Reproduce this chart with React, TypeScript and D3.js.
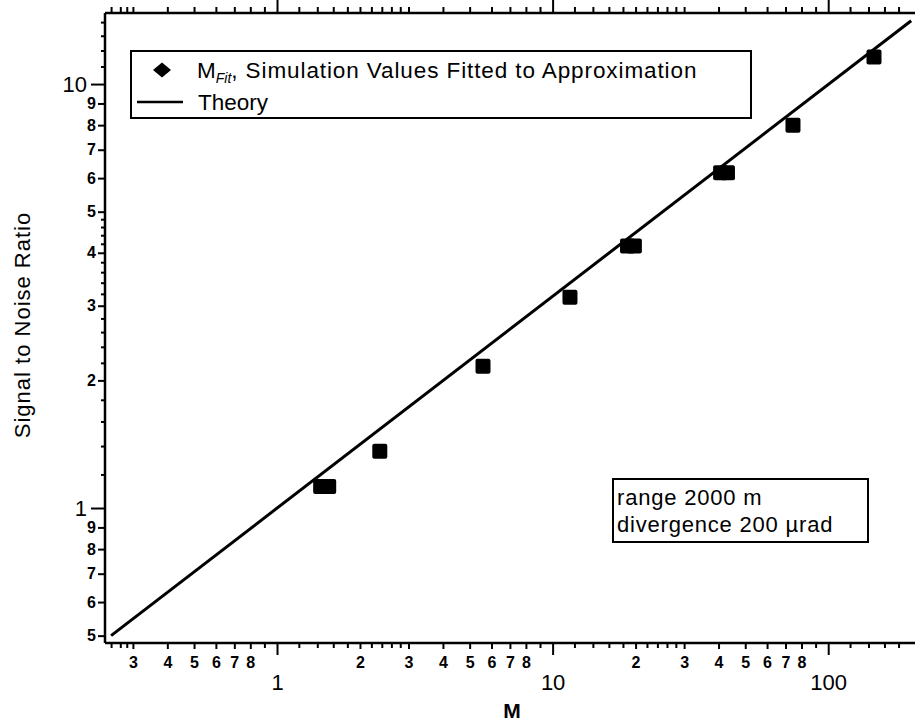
import React, { useRef, useEffect } from 'react';
import * as d3 from 'd3';

// M_Fit: simulation values fitted to approximation
const fitM = [1.44, 1.54, 2.36, 5.59, 11.56, 18.7, 19.8, 40.7, 43.1, 74.5, 146.6];
const fitSNR = [1.124, 1.124, 1.362, 2.16, 3.14, 4.15, 4.15, 6.18, 6.18, 8.0, 11.58];

// theory line (end points)
const theoryM = [0.25, 200];
const theorySNR = [0.5, 14.1];

// x axis ticks
const xMajor = [1, 10, 100];
const xLabeled = [0.3, 0.4, 0.5, 0.6, 0.7, 0.8, 2, 3, 4, 5, 6, 7, 8, 20, 30, 40, 50, 60, 70, 80];
const xMinor = [0.25, 0.27, 0.285, 0.9, 1.2, 1.4, 1.6, 1.8, 2.2, 2.4, 2.6, 2.8, 9,
  12, 14, 16, 18, 22, 24, 26, 28, 90, 120, 140, 160, 180];

// y axis ticks
const yMajor = [1, 10];
const yLabeled = [0.5, 0.6, 0.7, 0.8, 0.9, 2, 3, 4, 5, 6, 7, 8, 9];
const yMinor = [1.2, 1.4, 1.6, 1.8, 2.2, 2.4, 2.6, 2.8, 3.2, 3.4, 3.6, 3.8,
  4.2, 4.4, 4.6, 4.8, 11, 12, 13, 14];

const FONT = '"Liberation Sans", Arial, Helvetica, sans-serif';

// leading digit of a log tick value
const digit = (d: number) => String(Math.round(d / Math.pow(10, Math.floor(Math.log10(d) + 1e-9))));

const App: React.FC = () => {
  const svgRef = useRef<SVGSVGElement | null>(null);
  const W = 915;
  const H = 723;

  useEffect(() => {
    if (!svgRef.current) return;
    const svg = d3.select(svgRef.current);
    svg.selectAll('*').remove();

    const left = 105, right = 915, top = 13, bottom = 643;

    const x = d3.scaleLog().domain([0.2376, 206.5]).range([left, right]);
    const y = d3.scaleLog().domain([0.4804, 14.71]).range([bottom, top]);

    const styleAxis = (g: d3.Selection<SVGGElement, unknown, null, undefined>, fs: number, bold = false) => {
      g.select('.domain').remove();
      g.attr('font-family', FONT);
      g.selectAll('line').attr('stroke', '#000').attr('stroke-width', 2);
      g.selectAll('text').attr('fill', '#000').attr('font-size', fs)
        .attr('font-weight', bold ? 'bold' : 'normal');
    };

    // bottom axis
    svg.append('g').attr('transform', `translate(0,${bottom})`)
      .call(d3.axisBottom(x).tickValues(xMinor).tickSize(5).tickSizeOuter(0).tickFormat(() => ''))
      .call(g => styleAxis(g, 10));
    svg.append('g').attr('transform', `translate(0,${bottom})`)
      .call(d3.axisBottom(x).tickValues(xLabeled).tickSize(6).tickSizeOuter(0).tickPadding(8).tickFormat(d => digit(+d)))
      .call(g => styleAxis(g, 16, true));
    svg.append('g').attr('transform', `translate(0,${bottom})`)
      .call(d3.axisBottom(x).tickValues(xMajor).tickSize(12).tickSizeOuter(0).tickPadding(19).tickFormat(d => String(d)))
      .call(g => styleAxis(g, 22));

    // top axis (ticks only)
    svg.append('g').attr('transform', `translate(0,${top})`)
      .call(d3.axisTop(x).tickValues([...xMinor, ...xLabeled]).tickSize(6).tickSizeOuter(0).tickFormat(() => ''))
      .call(g => styleAxis(g, 10));
    svg.append('g').attr('transform', `translate(0,${top})`)
      .call(d3.axisTop(x).tickValues(xMajor).tickSize(13).tickSizeOuter(0).tickFormat(() => ''))
      .call(g => styleAxis(g, 10));

    // left axis
    svg.append('g').attr('transform', `translate(${left},0)`)
      .call(d3.axisLeft(y).tickValues(yMinor).tickSize(4).tickSizeOuter(0).tickFormat(() => ''))
      .call(g => styleAxis(g, 10));
    svg.append('g').attr('transform', `translate(${left},0)`)
      .call(d3.axisLeft(y).tickValues(yLabeled).tickSize(7).tickSizeOuter(0).tickPadding(2).tickFormat(d => digit(+d)))
      .call(g => styleAxis(g, 16, true));
    svg.append('g').attr('transform', `translate(${left},0)`)
      .call(d3.axisLeft(y).tickValues(yMajor).tickSize(14).tickSizeOuter(0).tickPadding(4).tickFormat(d => String(d)))
      .call(g => styleAxis(g, 22));

    // frame lines
    const frame = svg.append('g').attr('stroke', '#000').attr('stroke-width', 2.5).attr('fill', 'none');
    frame.append('line').attr('x1', left).attr('x2', left).attr('y1', top).attr('y2', bottom);
    frame.append('line').attr('x1', left).attr('x2', right).attr('y1', bottom).attr('y2', bottom);
    frame.append('line').attr('x1', left).attr('x2', right).attr('y1', top).attr('y2', top);

    // theory line
    const line = d3.line<number>()
      .x((_, i) => x(theoryM[i]))
      .y(d => y(d));
    svg.append('path')
      .datum(theorySNR)
      .attr('d', line)
      .attr('fill', 'none')
      .attr('stroke', '#000')
      .attr('stroke-width', 3);

    // fitted points
    const s = 15;
    svg.selectAll('.pt')
      .data(fitM)
      .enter().append('rect')
      .attr('class', 'pt')
      .attr('x', d => x(d) - s / 2)
      .attr('y', (_, i) => y(fitSNR[i]) - s / 2)
      .attr('width', s)
      .attr('height', s)
      .attr('rx', 2)
      .attr('fill', '#000');

    // axis titles
    svg.append('text')
      .attr('transform', 'translate(30,325) rotate(-90)')
      .attr('text-anchor', 'middle')
      .attr('font-family', FONT)
      .attr('font-size', 22)
      .attr('letter-spacing', 1)
      .text('Signal to Noise Ratio');
    svg.append('text')
      .attr('x', 512).attr('y', 718)
      .attr('text-anchor', 'middle')
      .attr('font-family', FONT)
      .attr('font-size', 21)
      .attr('font-weight', 'bold')
      .text('M');

    // legend
    const legend = svg.append('g').attr('font-family', FONT);
    legend.append('rect')
      .attr('x', 131).attr('y', 51).attr('width', 620).attr('height', 67)
      .attr('fill', '#fff').attr('stroke', '#000').attr('stroke-width', 2);
    legend.append('path')
      .attr('d', d3.symbol(d3.symbolSquare, 130)())
      .attr('transform', 'translate(162,70) scale(1.12,0.92) rotate(45)')
      .attr('fill', '#000');
    const t1 = legend.append('text').attr('x', 197).attr('y', 78).attr('font-size', 22.5);
    t1.append('tspan').text('M');
    t1.append('tspan').attr('font-size', 14).attr('font-style', 'italic').attr('dy', 5).text('Fit');
    t1.append('tspan').attr('dy', -5).attr('letter-spacing', 0.9).text(', Simulation Values Fitted to Approximation');
    legend.append('line')
      .attr('x1', 137).attr('x2', 183).attr('y1', 102).attr('y2', 102)
      .attr('stroke', '#000').attr('stroke-width', 2.5);
    legend.append('text').attr('x', 198).attr('y', 110).attr('font-size', 22.5).text('Theory');

    // annotation
    const note = svg.append('g').attr('font-family', FONT).attr('font-size', 22).attr('letter-spacing', 0.8);
    note.append('rect')
      .attr('x', 613).attr('y', 479).attr('width', 255).attr('height', 63)
      .attr('fill', '#fff').attr('stroke', '#000').attr('stroke-width', 2);
    note.append('text').attr('x', 617).attr('y', 505).text('range 2000 m');
    note.append('text').attr('x', 617).attr('y', 532).text('divergence 200 \u00b5rad');
  }, []);

  return (
    <svg ref={svgRef} width={W} height={H}
      style={{ position: 'absolute', left: 0, top: 0, background: '#fff' }} />
  );
};

export default App;
